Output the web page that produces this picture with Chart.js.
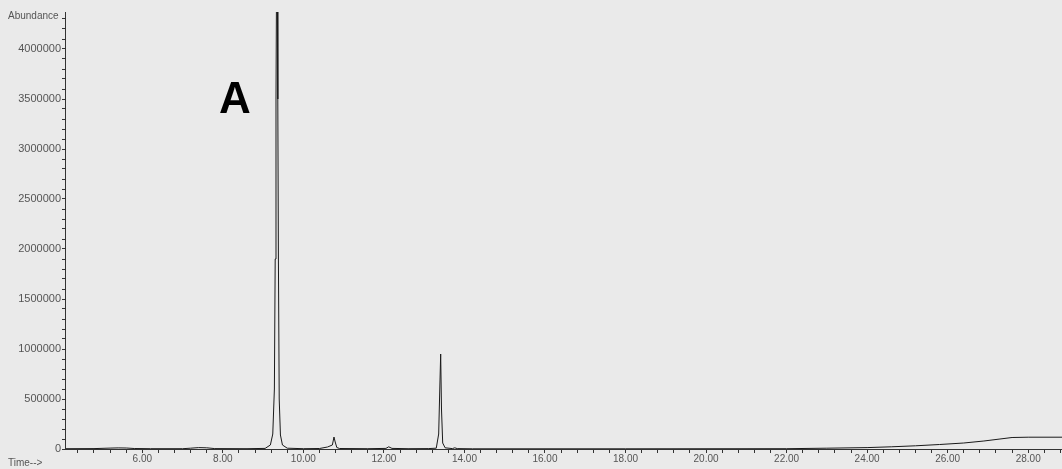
<!DOCTYPE html>
<html>
<head>
<meta charset="utf-8">
<script src="https://cdn.jsdelivr.net/npm/chart.js@4"></script>
<style>
  html, body { margin: 0; padding: 0; background: #eaeaea; }
  #wrap { width: 1062px; height: 469px; position: relative; }
</style>
</head>
<body>
<div id="wrap"><canvas id="tic"></canvas></div>
<script>
// retention time (min) and abundance
const times = [4.1, 4.8, 5.2, 5.4, 5.6, 5.8, 6.2, 7.0, 7.2, 7.4, 7.6, 7.8, 8.6, 9.05, 9.18, 9.24, 9.28, 9.30, 9.32, 9.335, 9.35, 9.365, 9.38, 9.40, 9.43, 9.48, 9.6, 10.0, 10.4, 10.6, 10.72, 10.76, 10.79, 10.83, 10.9, 11.6, 12.05, 12.12, 12.2, 12.6, 13.1, 13.3, 13.36, 13.39, 13.41, 13.43, 13.46, 13.52, 13.7, 13.76, 13.82, 14.2, 18.0, 22.0, 23.0, 24.0, 24.6, 25.2, 25.8, 26.4, 26.9, 27.3, 27.6, 28.0, 28.84];
const abundance = [3000, 4000, 9000, 11000, 10000, 5000, 3000, 3000, 8000, 14000, 12000, 4000, 3000, 6000, 40000, 150000, 600000, 1900000, 3500000, 4800000, 5200000, 3500000, 1900000, 500000, 140000, 40000, 8000, 3000, 5000, 20000, 40000, 120000, 70000, 15000, 5000, 3000, 6000, 22000, 6000, 3000, 4000, 8000, 150000, 640000, 950000, 400000, 60000, 12000, 4000, 12000, 4000, 2000, 2000, 3000, 8000, 14000, 22000, 32000, 45000, 60000, 80000, 100000, 115000, 118000, 118000];
const yTickLabels = [0, 500000, 1000000, 1500000, 2000000, 2500000, 3000000, 3500000, 4000000];
const xTickLabels = [6, 8, 10, 12, 14, 16, 18, 20, 22, 24, 26, 28];

const points = times.map((t, i) => ({ x: t, y: abundance[i] }));

const extraText = {
  id: 'extraText',
  afterDraw(chart) {
    const ctx = chart.ctx;
    const xs = chart.scales.x, ys = chart.scales.y;
    ctx.save();
    ctx.fillStyle = '#000';
    ctx.font = 'bold 44px "Liberation Sans", Arial, sans-serif';
    ctx.textAlign = 'center';
    ctx.textBaseline = 'middle';
    ctx.fillText('A', xs.getPixelForValue(8.3), ys.getPixelForValue(3480000));
    ctx.fillStyle = '#555';
    ctx.font = '10px "Liberation Sans", Arial, sans-serif';
    ctx.textAlign = 'left';
    ctx.fillText('Abundance', 8, 16);
    ctx.fillText('Time-->', 8, 463);
    ctx.restore();
  }
};

new Chart(document.getElementById('tic').getContext('2d'), {
  type: 'line',
  data: {
    datasets: [{
      data: points,
      borderColor: '#1a1a1a',
      borderWidth: 1,
      pointRadius: 0,
      tension: 0,
      fill: false
    }]
  },
  options: {
    responsive: true,
    maintainAspectRatio: false,
    animation: false,
    layout: { padding: { top: 12, right: 0, left: 0, bottom: 0 } },
    plugins: { legend: { display: false }, tooltip: { enabled: false } },
    scales: {
      x: {
        type: 'linear',
        min: 4.08,
        max: 28.84,
        afterBuildTicks(scale) {
          const ticks = [];
          for (let v = 4.4; v <= 28.84; v += 0.4) ticks.push({ value: Math.round(v * 10) / 10 });
          scale.ticks = ticks;
        },
        afterFit(scale) { scale.height = 20; },
        border: { color: '#333', width: 1 },
        grid: { drawOnChartArea: false, tickLength: 4, color: '#333' },
        ticks: {
          autoSkip: false,
          maxRotation: 0,
          padding: 0,
          color: '#555',
          font: { size: 10, family: '"Liberation Sans", Arial, sans-serif' },
          callback(v) {
            return xTickLabels.includes(Math.round(v * 10) / 10) ? v.toFixed(2) : '';
          }
        }
      },
      y: {
        min: 0,
        max: 4370000,
        afterBuildTicks(scale) {
          const ticks = [];
          for (let v = 0; v <= 4300000; v += 100000) ticks.push({ value: v });
          scale.ticks = ticks;
        },
        afterFit(scale) { scale.width = 65; },
        border: { color: '#333', width: 1 },
        grid: { drawOnChartArea: false, tickLength: 3, color: '#333' },
        ticks: {
          autoSkip: false,
          padding: 1,
          color: '#555',
          font: { size: 11, family: '"Liberation Sans", Arial, sans-serif' },
          callback(v) {
            return yTickLabels.includes(v) ? String(v) : '';
          }
        }
      }
    }
  },
  plugins: [extraText]
});
</script>
</body>
</html>
